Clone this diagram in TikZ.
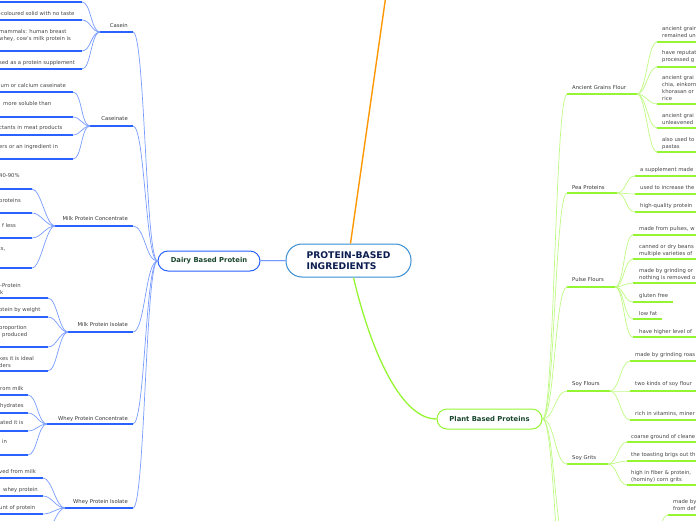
\documentclass[tikz,border=0pt]{standalone}
\usepackage{fontspec}
\setmainfont{DejaVu Sans}
\usetikzlibrary{positioning}

\definecolor{dairyblue}{RGB}{41,98,255}
\definecolor{dairylight}{RGB}{120,155,255}
\definecolor{plantgreen}{RGB}{150,245,50}
\definecolor{plantlight}{RGB}{190,250,130}
\definecolor{rootblue}{RGB}{55,140,210}
\definecolor{rootnavy}{RGB}{12,30,80}
\definecolor{maingreen}{RGB}{25,70,45}
\definecolor{leafgray}{RGB}{68,68,68}
\definecolor{branchorange}{RGB}{255,150,0}

\begin{document}
\begin{tikzpicture}[x=1pt, y=-1pt,
    every node/.style={font=\fontsize{5.3}{6.8}\selectfont, text=leafgray, inner sep=0pt},
    root/.style={rectangle, rounded corners=16pt, draw=rootblue, line width=1pt, fill=white,
        minimum width=125pt, minimum height=33pt, align=left, text=rootnavy,
        font=\fontsize{9.2}{11}\selectfont\bfseries},
    topic/.style={rectangle, rounded corners=10pt, line width=1pt, fill=white,
        minimum height=20pt, text=maingreen, font=\fontsize{6.8}{8}\selectfont\bfseries},
    sublabel/.style={text=leafgray!80!black},
    leaf/.style={anchor=north west, align=left},
    dunder/.style={dairyblue, line width=2pt},
    punder/.style={plantgreen, line width=2pt},
    dlink/.style={dairylight, line width=0.7pt, out=180, in=0, max distance=#1},
    dlink/.default=9pt,
    plink/.style={plantlight, line width=0.7pt, out=0, in=180, max distance=#1},
    plink/.default=9pt
]
\useasboundingbox (0,0) rectangle (696,520);
\clip (0,0) rectangle (696,520);

% main nodes
\node[root] (root) at (348.5,260.5) {PROTEIN-BASED\\INGREDIENTS};
\node[topic, draw=dairyblue, minimum width=102pt] (dairy) at (209,261) {Dairy Based Protein};
\node[topic, draw=plantgreen, minimum width=105pt] (plant) at (489.5,419) {Plant Based Proteins};
\coordinate (upper) at (386,-5);

\draw[dairyblue, line width=0.8pt] (root) -- (dairy);
\draw[branchorange, line width=1.4pt] ([xshift=2pt]root.north) -- (upper);
\draw[plantgreen, line width=1.3pt] ([xshift=5pt]root.south) .. controls (368,340) and (398,419) .. (plant.west);

% ---- dairy side ----
% Casein
\node[sublabel, anchor=east] (casein) at (128,26) {Casein};
\coordinate (caseinL) at (100,32); \coordinate (caseinR) at (133,32);
\draw[dunder] (caseinL) -- (caseinR);
\draw[dlink=12pt] (dairy.west) to (caseinR);
\foreach \uy/\tx/\ty/\txt [count=\i] in {
    2/-1/-20/{},
    20/-1/14/{-coloured solid with no taste},
    51/-1/32/{mammals: human breast\\whey, cow's milk protein is},
    69/-1/63/{sed as a protein supplement}}{
  \coordinate (caseinS\i) at (-5,\uy);
  \coordinate (caseinE\i) at (82,\uy);
  \draw[dunder] (caseinS\i) -- (caseinE\i);
  \node[leaf] (caseinT\i) at (\tx,\ty-2.3) {\txt};
  \draw[dlink] (caseinL) to (caseinE\i);
}

% Caseinate
\node[sublabel, anchor=east] (caseinate) at (128,119) {Caseinate};
\coordinate (caseinateL) at (90,126); \coordinate (caseinateR) at (133,126);
\draw[dunder] (caseinateL) -- (caseinateR);
\draw[dlink=12pt] (dairy.west) to (caseinateR);
\foreach \uy/\tx/\ty/\txt [count=\i] in {
    92/-1/86/{ium or calcium caseinate},
    117/3/104/{more soluble than},
    135/-1/128/{ctants in meat products},
    159/-1/147/{ers or an ingredient in}}{
  \coordinate (caseinateS\i) at (-5,\uy);
  \coordinate (caseinateE\i) at (73,\uy);
  \draw[dunder] (caseinateS\i) -- (caseinateE\i);
  \node[leaf] (caseinateT\i) at (\tx,\ty-2.3) {\txt};
  \draw[dlink] (caseinateL) to (caseinateE\i);
}

% Milk Protein Concentrate
\node[sublabel, anchor=east] (mpc) at (128,219) {Milk Protein Concentrate};
\coordinate (mpcL) at (55,226); \coordinate (mpcR) at (133,226);
\draw[dunder] (mpcL) -- (mpcR);
\draw[dlink=12pt] (dairy.west) to (mpcR);
\foreach \uy/\tx/\ty/\txt [count=\i] in {
    189/-1/176/{40-90\%},
    213/-1/201/{proteins},
    238/2/226/{f less},
    268/-1.5/249/{ts,}}{
  \coordinate (mpcS\i) at (-5,\uy);
  \coordinate (mpcE\i) at (32,\uy);
  \draw[dunder] (mpcS\i) -- (mpcE\i);
  \node[leaf] (mpcT\i) at (\tx,\ty-2.3) {\txt};
  \draw[dlink] (mpcL) to (mpcE\i);
}

% Milk Protein Isolate
\node[sublabel, anchor=east] (mpi) at (128,325) {Milk Protein Isolate};
\coordinate (mpiL) at (68,332); \coordinate (mpiR) at (133,332);
\draw[dunder] (mpiL) -- (mpiR);
\draw[dlink=12pt] (dairy.west) to (mpiR);
\foreach \uy/\tx/\ty/\txt [count=\i] in {
    298/0/286/{-Protein\\k},
    317/-1/310/{otein by weight},
    347/-1/328/{proportion\\\hspace*{3pt}produced},
    371/-1/359/{kes it is ideal\\ders}}{
  \coordinate (mpiS\i) at (-5,\uy);
  \coordinate (mpiE\i) at (48,\uy);
  \draw[dunder] (mpiS\i) -- (mpiE\i);
  \node[leaf] (mpiT\i) at (\tx,\ty-2.3) {\txt};
  \draw[dlink] (mpiL) to (mpiE\i);
}

% Whey Protein Concentrate
\node[sublabel, anchor=east] (wpc) at (128,419) {Whey Protein Concentrate};
\coordinate (wpcL) at (47,424); \coordinate (wpcR) at (133,424);
\draw[dunder] (wpcL) -- (wpcR);
\draw[dlink=12pt] (dairy.west) to (wpcR);
\foreach \uy/\tx/\ty/\txt [count=\i] in {
    395/0/389/{rom milk},
    413/0/406/{hydrates},
    431/0/423/{ated it is},
    455/2/442/{in}}{
  \coordinate (wpcS\i) at (-5,\uy);
  \coordinate (wpcE\i) at (28,\uy);
  \draw[dunder] (wpcS\i) -- (wpcE\i);
  \node[leaf] (wpcT\i) at (\tx,\ty-2.3) {\txt};
  \draw[dlink] (wpcL) to (wpcE\i);
}

% Whey Protein Isolate
\node[sublabel, anchor=east] (wpi) at (128,502) {Whey Protein Isolate};
\coordinate (wpiL) at (65,508); \coordinate (wpiR) at (133,508);
\draw[dunder] (wpiL) -- (wpiR);
\draw[dlink=12pt] (dairy.west) to (wpiR);
\foreach \uy/\tx/\ty/\txt [count=\i] in {
    478/-1/472/{ved from milk},
    496/3/490/{whey protein},
    514/-1/508/{unt of protein},
    534/-1/545/{}}{
  \coordinate (wpiS\i) at (-5,\uy);
  \coordinate (wpiE\i) at (43,\uy);
  \draw[dunder] (wpiS\i) -- (wpiE\i);
  \node[leaf] (wpiT\i) at (\tx,\ty-2.3) {\txt};
  \draw[dlink] (wpiL) to (wpiE\i);
}

% ---- plant side ----
% Ancient Grains Flour
\node[sublabel, anchor=west] (agf) at (572,88) {Ancient Grains Flour};
\coordinate (agfL) at (567,94); \coordinate (agfR) at (637,94);
\draw[punder] (agfL) -- (agfR);
\draw[plink=12pt] (plant.east) to (agfL);
\foreach \uy/\ty/\txt [count=\i] in {
    42/29/{ancient grains\\remained un},
    67/53/{have reputat\\processed g},
    104/78/{ancient grai\\chia, einkorn\\khorasan or\\rice},
    128/116/{ancient grai\\unleavened},
    152/140/{also used to\\pastas}}{
  \coordinate (agfS\i) at (657,\uy);
  \coordinate (agfE\i) at (702,\uy);
  \draw[punder] (agfS\i) -- (agfE\i);
  \node[leaf] (agfT\i) at (662,\ty-2.3) {\txt};
  \draw[plink] (agfR) to (agfS\i);
}

% Pea Proteins
\node[sublabel, anchor=west] (pea) at (572,188) {Pea Proteins};
\coordinate (peaL) at (567,193); \coordinate (peaR) at (617,193);
\draw[punder] (peaL) -- (peaR);
\draw[plink=12pt] (plant.east) to (peaL);
\foreach \uy/\ty/\txt [count=\i] in {
    176/170/{a supplement made},
    194/188/{used to increase the},
    212/206/{high-quality protein}}{
  \coordinate (peaS\i) at (635,\uy);
  \coordinate (peaE\i) at (702,\uy);
  \draw[punder] (peaS\i) -- (peaE\i);
  \node[leaf] (peaT\i) at (640,\ty-2.3) {\txt};
  \draw[plink] (peaR) to (peaS\i);
}

% Pulse Flours
\node[sublabel, anchor=west] (pulse) at (572,280) {Pulse Flours};
\coordinate (pulseL) at (567,287); \coordinate (pulseR) at (615,287);
\draw[punder] (pulseL) -- (pulseR);
\draw[plink=12pt] (plant.east) to (pulseL);
\foreach \uy/\ty/\rx/\txt [count=\i] in {
    235/229/702/{made from pulses, w},
    259/247/702/{canned or dry beans\\multiple varieties of},
    283/271/702/{made by grinding or\\nothing is removed o},
    302/296/673/{gluten free},
    319/314/662/{low fat},
    337/332/702/{have higher level of}}{
  \coordinate (pulseS\i) at (633,\uy);
  \coordinate (pulseE\i) at (\rx,\uy);
  \draw[punder] (pulseS\i) -- (pulseE\i);
  \node[leaf] (pulseT\i) at (639,\ty-2.3) {\txt};
  \draw[plink] (pulseR) to (pulseS\i);
}

% Soy Flours
\node[sublabel, anchor=west] (soyf) at (572,384) {Soy Flours};
\coordinate (soyfL) at (567,391); \coordinate (soyfR) at (610,391);
\draw[punder] (soyfL) -- (soyfR);
\draw[plink=12pt] (plant.east) to (soyfL);
\foreach \uy/\ty/\txt [count=\i] in {
    361/355/{made by grinding roas},
    391/384/{two kinds of soy flour},
    420/414/{rich in vitamins, miner}}{
  \coordinate (soyfS\i) at (630,\uy);
  \coordinate (soyfE\i) at (702,\uy);
  \draw[punder] (soyfS\i) -- (soyfE\i);
  \node[leaf] (soyfT\i) at (635,\ty-2.3) {\txt};
  \draw[plink] (soyfR) to (soyfS\i);
}

% Soy Grits
\node[sublabel, anchor=west] (soyg) at (572,458) {Soy Grits};
\coordinate (soygL) at (567,464); \coordinate (soygR) at (608,464);
\draw[punder] (soygL) -- (soygR);
\draw[plink=12pt] (plant.east) to (soygL);
\foreach \uy/\ty/\txt [count=\i] in {
    442/437/{coarse ground of cleane},
    461/455/{the toasting brigs out th},
    485/473/{high in fiber \& protein,\\(hominy) corn grits}}{
  \coordinate (soygS\i) at (627,\uy);
  \coordinate (soygE\i) at (702,\uy);
  \draw[punder] (soygS\i) -- (soygE\i);
  \node[leaf] (soygT\i) at (631,\ty-2.3) {\txt};
  \draw[plink] (soygR) to (soygS\i);
}

% below the edge
\coordinate (lowL) at (567,548); \coordinate (lowR) at (650,548);
\coordinate (lowS) at (668,515); \coordinate (lowE) at (702,515);
\coordinate (lastL) at (567,600);
\draw[punder] (lowL) -- (lowR);
\draw[punder] (lowS) -- (lowE);
\draw[plink=12pt] (plant.east) to (lowL);
\draw[plink=12pt] (plant.east) to (lastL);
\draw[plink] (lowR) to (lowS);
\node[leaf] (lowT) at (673,502-2.3) {made by\\from def};
\end{tikzpicture}
\end{document}
